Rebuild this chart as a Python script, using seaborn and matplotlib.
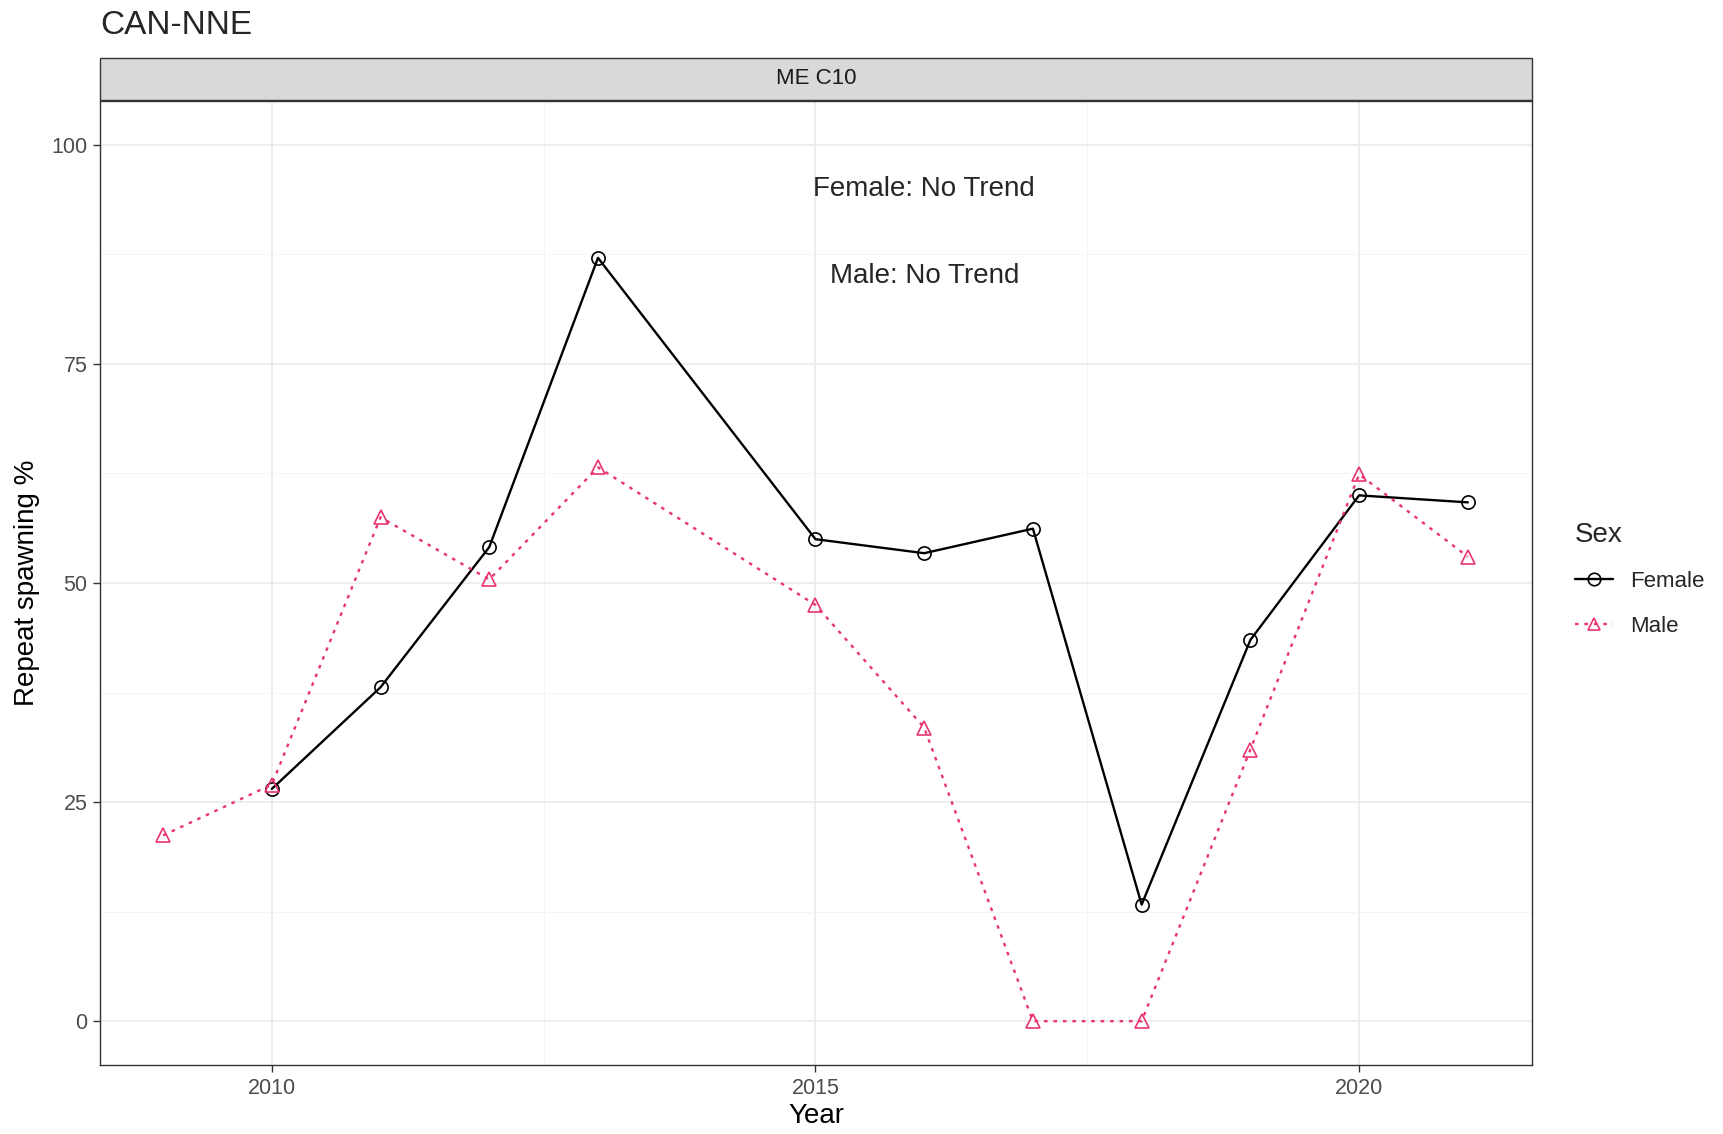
import numpy as np
import pandas as pd
import matplotlib
matplotlib.use("Agg")
import matplotlib.pyplot as plt
from matplotlib.lines import Line2D
from matplotlib.patches import Rectangle
from matplotlib.ticker import MultipleLocator
import seaborn as sns

# data
female_years = [2010, 2011, 2012, 2013, 2015, 2016, 2017, 2018, 2019, 2020, 2021]
female_pct = [26.5, 38.1, 54.1, 87.1, 55.0, 53.4, 56.2, 13.3, 43.5, 60.0, 59.2]
male_years = [2009, 2010, 2011, 2012, 2013, 2015, 2016, 2017, 2018, 2019, 2020, 2021]
male_pct = [21.2, 27.0, 57.5, 50.4, 63.2, 47.5, 33.5, 0.0, 0.0, 31.0, 62.4, 53.0]

sexes = ["Female", "Male"]
colors = {"Female": "#000000", "Male": "#E8356E"}
annotations = ["Female: No Trend", "Male: No Trend"]

df = pd.concat([
    pd.DataFrame({"Year": female_years, "pct": female_pct, "Sex": "Female"}),
    pd.DataFrame({"Year": male_years, "pct": male_pct, "Sex": "Male"}),
])

sns.set_theme(style="white")
plt.rcParams["font.family"] = ["Liberation Sans", "DejaVu Sans"]

fig = plt.figure(figsize=(17.24, 11.34), dpi=100)
ax = fig.add_axes([100 / 1724, 1 - 1065 / 1134, 1432 / 1724, 964 / 1134])

sns.lineplot(data=df, x="Year", y="pct", hue="Sex", style="Sex",
             hue_order=sexes, style_order=sexes, palette=colors,
             markers={"Female": "o", "Male": "^"},
             dashes={"Female": "", "Male": (1.5, 2.5)},
             markersize=9.5, linewidth=1.7, ax=ax, legend=False)

for line in ax.lines:
    line.set_markerfacecolor("none")
    line.set_markeredgecolor(line.get_color())
    line.set_markeredgewidth(1.2)

ax.set_xlim(2008.42, 2021.59)
ax.set_ylim(-5, 105)
ax.xaxis.set_major_locator(MultipleLocator(5))
ax.xaxis.set_minor_locator(MultipleLocator(2.5))
ax.yaxis.set_major_locator(MultipleLocator(25))
ax.yaxis.set_minor_locator(MultipleLocator(12.5))
ax.set_yticks([0, 25, 50, 75, 100])
ax.grid(which="major", color="#EBEBEB", linewidth=1.2)
ax.grid(which="minor", color="#F5F5F5", linewidth=0.7)
ax.set_axisbelow(True)
for s in ax.spines.values():
    s.set_color("#333333")
    s.set_linewidth(1.0)
ax.tick_params(axis="both", which="major", length=5, width=1, color="#333333",
               labelsize=15.5, labelcolor="#4D4D4D", direction="out",
               bottom=True, left=True, pad=4)
ax.tick_params(which="minor", length=0)

ax.set_xlabel("Year", fontsize=20, color="black", labelpad=3)
ax.set_ylabel("Repeat spawning %", fontsize=20, color="black", labelpad=8)

ax.text(2016, 95, annotations[0], ha="center", va="center", fontsize=20)
ax.text(2016, 85, annotations[1], ha="center", va="center", fontsize=20)

# facet strip
strip = Rectangle((100 / 1724, 1 - 100 / 1134), 1432 / 1724, 42 / 1134,
                  transform=fig.transFigure, facecolor="#D9D9D9",
                  edgecolor="#333333", linewidth=1.0)
fig.patches.append(strip)
fig.text((100 + 716) / 1724, 1 - 79 / 1134, "ME C10", ha="center", va="center",
         fontsize=16, color="#1A1A1A")

fig.text(100 / 1724, 1 - 25 / 1134, "CAN-NNE", ha="left", va="center", fontsize=24)

handles = [Line2D([], [], color=colors["Female"], marker="o", mfc="none",
                  markersize=9, linewidth=1.7, markeredgewidth=1.2),
           Line2D([], [], color=colors["Male"], marker="^", mfc="none",
                  markersize=9, linewidth=1.7, linestyle=(0, (1.5, 2.5)),
                  markeredgewidth=1.2)]
leg = fig.legend(handles, sexes, title="Sex", loc="upper left",
                 bbox_to_anchor=(1566 / 1724, 1 - 513 / 1134), frameon=False,
                 fontsize=16, title_fontsize=20, handlelength=1.7,
                 labelspacing=1.05, alignment="left", handletextpad=0.8,
                 borderaxespad=0.0)

fig.savefig("out.png", dpi=100)
